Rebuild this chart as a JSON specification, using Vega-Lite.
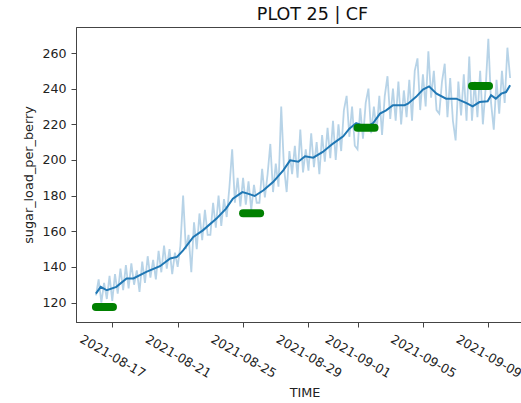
{
  "$schema": "https://vega.github.io/schema/vega-lite/v6.json",
  "autosize": {"type": "none"},
  "padding": {"left": 76, "top": 27, "right": 0, "bottom": 81},
  "width": 457,
  "height": 295,
  "background": "white",
  "title": {"text": "PLOT 25 | CF", "font": "DejaVu Sans", "fontSize": 17.5, "fontWeight": "normal", "color": "#111", "anchor": "middle", "frame": "group", "dx": 8, "dy": 17, "baseline": "alphabetic", "offset": 7},
  "config": {
    "view": {"stroke": "#444", "strokeWidth": 1},
    "axis": {"labelFont": "DejaVu Sans", "titleFont": "DejaVu Sans", "labelFontSize": 12.6, "titleFontSize": 12.8, "labelColor": "#222", "titleColor": "#222", "titleFontWeight": "normal", "domainColor": "#444", "tickColor": "#444", "tickSize": 5, "grid": false}
  },
  "datasets": {
    "raw": [
      {"t":"2021-08-16T00:00Z","v":124},{"t":"2021-08-16T04:00Z","v":133},{"t":"2021-08-16T08:00Z","v":120},{"t":"2021-08-16T12:00Z","v":131},{"t":"2021-08-16T16:00Z","v":122},{"t":"2021-08-16T20:00Z","v":135},
      {"t":"2021-08-17T00:00Z","v":121},{"t":"2021-08-17T04:00Z","v":136},{"t":"2021-08-17T08:00Z","v":125},{"t":"2021-08-17T12:00Z","v":139},{"t":"2021-08-17T16:00Z","v":127},{"t":"2021-08-17T20:00Z","v":141},
      {"t":"2021-08-18T00:00Z","v":128},{"t":"2021-08-18T04:00Z","v":142},{"t":"2021-08-18T08:00Z","v":130},{"t":"2021-08-18T12:00Z","v":138},{"t":"2021-08-18T16:00Z","v":126},{"t":"2021-08-18T20:00Z","v":143},
      {"t":"2021-08-19T00:00Z","v":131},{"t":"2021-08-19T04:00Z","v":146},{"t":"2021-08-19T08:00Z","v":134},{"t":"2021-08-19T12:00Z","v":144},{"t":"2021-08-19T16:00Z","v":133},{"t":"2021-08-19T20:00Z","v":149},
      {"t":"2021-08-20T00:00Z","v":137},{"t":"2021-08-20T04:00Z","v":152},{"t":"2021-08-20T08:00Z","v":139},{"t":"2021-08-20T12:00Z","v":150},{"t":"2021-08-20T16:00Z","v":136},{"t":"2021-08-20T20:00Z","v":148},
      {"t":"2021-08-21T00:00Z","v":140},{"t":"2021-08-21T04:00Z","v":152},{"t":"2021-08-21T08:00Z","v":180},{"t":"2021-08-21T12:00Z","v":150},{"t":"2021-08-21T16:00Z","v":158},{"t":"2021-08-21T20:00Z","v":137},
      {"t":"2021-08-22T00:00Z","v":165},{"t":"2021-08-22T04:00Z","v":150},{"t":"2021-08-22T08:00Z","v":170},{"t":"2021-08-22T12:00Z","v":155},{"t":"2021-08-22T16:00Z","v":172},{"t":"2021-08-22T20:00Z","v":158},
      {"t":"2021-08-23T00:00Z","v":158},{"t":"2021-08-23T04:00Z","v":176},{"t":"2021-08-23T08:00Z","v":162},{"t":"2021-08-23T12:00Z","v":180},{"t":"2021-08-23T16:00Z","v":163},{"t":"2021-08-23T20:00Z","v":178},
      {"t":"2021-08-24T00:00Z","v":168},{"t":"2021-08-24T04:00Z","v":185},{"t":"2021-08-24T08:00Z","v":206},{"t":"2021-08-24T12:00Z","v":176},{"t":"2021-08-24T16:00Z","v":190},{"t":"2021-08-24T20:00Z","v":174},
      {"t":"2021-08-25T00:00Z","v":190},{"t":"2021-08-25T04:00Z","v":175},{"t":"2021-08-25T08:00Z","v":188},{"t":"2021-08-25T12:00Z","v":172},{"t":"2021-08-25T16:00Z","v":186},{"t":"2021-08-25T20:00Z","v":176},
      {"t":"2021-08-26T00:00Z","v":176},{"t":"2021-08-26T04:00Z","v":195},{"t":"2021-08-26T08:00Z","v":179},{"t":"2021-08-26T12:00Z","v":192},{"t":"2021-08-26T16:00Z","v":209},{"t":"2021-08-26T20:00Z","v":182},
      {"t":"2021-08-27T00:00Z","v":198},{"t":"2021-08-27T04:00Z","v":185},{"t":"2021-08-27T08:00Z","v":230},{"t":"2021-08-27T12:00Z","v":196},{"t":"2021-08-27T16:00Z","v":182},{"t":"2021-08-27T20:00Z","v":205},
      {"t":"2021-08-28T00:00Z","v":192},{"t":"2021-08-28T04:00Z","v":208},{"t":"2021-08-28T08:00Z","v":190},{"t":"2021-08-28T12:00Z","v":217},{"t":"2021-08-28T16:00Z","v":193},{"t":"2021-08-28T20:00Z","v":206},
      {"t":"2021-08-29T00:00Z","v":194},{"t":"2021-08-29T04:00Z","v":215},{"t":"2021-08-29T08:00Z","v":196},{"t":"2021-08-29T12:00Z","v":210},{"t":"2021-08-29T16:00Z","v":192},{"t":"2021-08-29T20:00Z","v":214},
      {"t":"2021-08-30T00:00Z","v":199},{"t":"2021-08-30T04:00Z","v":218},{"t":"2021-08-30T08:00Z","v":201},{"t":"2021-08-30T12:00Z","v":222},{"t":"2021-08-30T16:00Z","v":200},{"t":"2021-08-30T20:00Z","v":220},
      {"t":"2021-08-31T00:00Z","v":205},{"t":"2021-08-31T04:00Z","v":228},{"t":"2021-08-31T08:00Z","v":236},{"t":"2021-08-31T12:00Z","v":213},{"t":"2021-08-31T16:00Z","v":230},{"t":"2021-08-31T20:00Z","v":208},
      {"t":"2021-09-01T00:00Z","v":206},{"t":"2021-09-01T04:00Z","v":229},{"t":"2021-09-01T08:00Z","v":212},{"t":"2021-09-01T12:00Z","v":232},{"t":"2021-09-01T16:00Z","v":240},{"t":"2021-09-01T20:00Z","v":215},
      {"t":"2021-09-02T00:00Z","v":230},{"t":"2021-09-02T04:00Z","v":216},{"t":"2021-09-02T08:00Z","v":236},{"t":"2021-09-02T12:00Z","v":214},{"t":"2021-09-02T16:00Z","v":236},{"t":"2021-09-02T20:00Z","v":247},
      {"t":"2021-09-03T00:00Z","v":223},{"t":"2021-09-03T04:00Z","v":240},{"t":"2021-09-03T08:00Z","v":222},{"t":"2021-09-03T12:00Z","v":244},{"t":"2021-09-03T16:00Z","v":220},{"t":"2021-09-03T20:00Z","v":239},
      {"t":"2021-09-04T00:00Z","v":224},{"t":"2021-09-04T04:00Z","v":245},{"t":"2021-09-04T08:00Z","v":222},{"t":"2021-09-04T12:00Z","v":250},{"t":"2021-09-04T16:00Z","v":257},{"t":"2021-09-04T20:00Z","v":228},
      {"t":"2021-09-05T00:00Z","v":248},{"t":"2021-09-05T04:00Z","v":230},{"t":"2021-09-05T08:00Z","v":261},{"t":"2021-09-05T12:00Z","v":235},{"t":"2021-09-05T16:00Z","v":250},{"t":"2021-09-05T20:00Z","v":228},
      {"t":"2021-09-06T00:00Z","v":226},{"t":"2021-09-06T04:00Z","v":244},{"t":"2021-09-06T08:00Z","v":254},{"t":"2021-09-06T12:00Z","v":224},{"t":"2021-09-06T16:00Z","v":246},{"t":"2021-09-06T20:00Z","v":222},
      {"t":"2021-09-07T00:00Z","v":211},{"t":"2021-09-07T04:00Z","v":244},{"t":"2021-09-07T08:00Z","v":225},{"t":"2021-09-07T12:00Z","v":248},{"t":"2021-09-07T16:00Z","v":222},{"t":"2021-09-07T20:00Z","v":258},
      {"t":"2021-09-08T00:00Z","v":222},{"t":"2021-09-08T04:00Z","v":244},{"t":"2021-09-08T08:00Z","v":224},{"t":"2021-09-08T12:00Z","v":250},{"t":"2021-09-08T16:00Z","v":220},{"t":"2021-09-08T20:00Z","v":240},
      {"t":"2021-09-09T00:00Z","v":268},{"t":"2021-09-09T04:00Z","v":232},{"t":"2021-09-09T08:00Z","v":217},{"t":"2021-09-09T12:00Z","v":245},{"t":"2021-09-09T16:00Z","v":226},{"t":"2021-09-09T20:00Z","v":250},
      {"t":"2021-09-10T00:00Z","v":232},{"t":"2021-09-10T04:00Z","v":263},{"t":"2021-09-10T08:00Z","v":246}
    ],
    "smooth": [
      {"t":"2021-08-16T00:00Z","v":125},{"t":"2021-08-16T07:00Z","v":128.8},{"t":"2021-08-16T16:00Z","v":126.9},{"t":"2021-08-17T06:00Z","v":128.8},
      {"t":"2021-08-17T21:00Z","v":133.5},{"t":"2021-08-18T07:00Z","v":133.5},{"t":"2021-08-19T02:00Z","v":137.2},{"t":"2021-08-19T22:00Z","v":140.4},
      {"t":"2021-08-20T13:00Z","v":144.7},{"t":"2021-08-20T23:00Z","v":145.6},{"t":"2021-08-21T08:00Z","v":149.3},{"t":"2021-08-21T23:00Z","v":156.8},
      {"t":"2021-08-22T13:00Z","v":160.5},{"t":"2021-08-23T09:00Z","v":167.1},{"t":"2021-08-23T23:00Z","v":172.7},{"t":"2021-08-24T09:00Z","v":178.3},
      {"t":"2021-08-24T23:00Z","v":182.0},{"t":"2021-08-25T07:00Z","v":181.1},{"t":"2021-08-25T17:00Z","v":179.8},{"t":"2021-08-26T06:00Z","v":183.0},
      {"t":"2021-08-26T20:00Z","v":187.6},{"t":"2021-08-27T11:00Z","v":194.2},{"t":"2021-08-27T21:00Z","v":199.8},{"t":"2021-08-28T09:00Z","v":199.0},
      {"t":"2021-08-28T19:00Z","v":202.1},{"t":"2021-08-29T07:00Z","v":201.3},{"t":"2021-08-29T21:00Z","v":204.5},{"t":"2021-08-30T12:00Z","v":209.2},
      {"t":"2021-08-31T03:00Z","v":213.3},{"t":"2021-08-31T12:00Z","v":217.6},{"t":"2021-08-31T22:00Z","v":220.7},{"t":"2021-09-01T13:00Z","v":218.5},
      {"t":"2021-09-01T23:00Z","v":220.7},{"t":"2021-09-02T09:00Z","v":226.0},{"t":"2021-09-02T18:00Z","v":227.8},{"t":"2021-09-03T04:00Z","v":230.7},
      {"t":"2021-09-03T21:00Z","v":230.7},{"t":"2021-09-04T02:00Z","v":231.6},{"t":"2021-09-04T14:00Z","v":235.4},{"t":"2021-09-05T00:00Z","v":239.5},
      {"t":"2021-09-05T09:00Z","v":241.3},{"t":"2021-09-05T20:00Z","v":237.2},{"t":"2021-09-06T10:00Z","v":234.4},{"t":"2021-09-07T01:00Z","v":234.4},
      {"t":"2021-09-07T16:00Z","v":231.9},{"t":"2021-09-08T01:00Z","v":230.1},{"t":"2021-09-08T11:00Z","v":232.5},{"t":"2021-09-08T23:00Z","v":232.9},
      {"t":"2021-09-09T04:00Z","v":236.3},{"t":"2021-09-09T11:00Z","v":234.4},{"t":"2021-09-09T19:00Z","v":237.2},{"t":"2021-09-10T02:00Z","v":238.1},
      {"t":"2021-09-10T08:00Z","v":241.9}
    ],
    "obs": [
      {"g":"a","t":"2021-08-16T00:00Z","v":117.5},{"g":"a","t":"2021-08-17T01:00Z","v":117.5},
      {"g":"b","t":"2021-08-25T00:00Z","v":170.1},{"g":"b","t":"2021-08-26T01:00Z","v":170.1},
      {"g":"c","t":"2021-09-01T00:00Z","v":218.1},{"g":"c","t":"2021-09-02T01:00Z","v":218.1},
      {"g":"d","t":"2021-09-08T00:00Z","v":241.5},{"g":"d","t":"2021-09-09T01:00Z","v":241.5}
    ]
  },
  "encoding": {
    "x": {
      "field": "t", "type": "temporal", "title": "TIME",
      "scale": {"type": "utc", "domain": [{"year": 2021, "month": 8, "date": 14, "hours": 18, "minutes": 46, "utc": true}, {"year": 2021, "month": 9, "date": 11, "hours": 17, "minutes": 34, "utc": true}]},
      "axis": {
        "values": [
          {"year": 2021, "month": 8, "date": 17, "utc": true},
          {"year": 2021, "month": 8, "date": 21, "utc": true},
          {"year": 2021, "month": 8, "date": 25, "utc": true},
          {"year": 2021, "month": 8, "date": 29, "utc": true},
          {"year": 2021, "month": 9, "date": 1, "utc": true},
          {"year": 2021, "month": 9, "date": 5, "utc": true},
          {"year": 2021, "month": 9, "date": 9, "utc": true}
        ],
        "format": "%Y-%m-%d", "labelAngle": 30, "labelAlign": "center", "labelBaseline": "middle",
        "labelPadding": 29, "labelOverlap": false, "labelBound": false, "labelFlush": false,
        "titleY": 74, "titleBaseline": "alphabetic"
      }
    },
    "y": {
      "field": "v", "type": "quantitative", "title": "sugar_load_per_berry",
      "scale": {"domain": [109.1, 274.6], "nice": false, "zero": false},
      "axis": {"values": [120, 140, 160, 180, 200, 220, 240, 260], "labelPadding": 5, "titleX": -48, "titleBaseline": "middle", "titleAngle": 270}
    }
  },
  "layer": [
    {"data": {"name": "raw"}, "mark": {"type": "line", "color": "#1f77b4", "opacity": 0.32, "strokeWidth": 1.8}},
    {"data": {"name": "smooth"}, "mark": {"type": "line", "color": "#1f77b4", "strokeWidth": 2}},
    {"data": {"name": "obs"}, "mark": {"type": "line", "color": "#008000", "strokeWidth": 8, "strokeCap": "round"}, "encoding": {"detail": {"field": "g"}}}
  ]
}
